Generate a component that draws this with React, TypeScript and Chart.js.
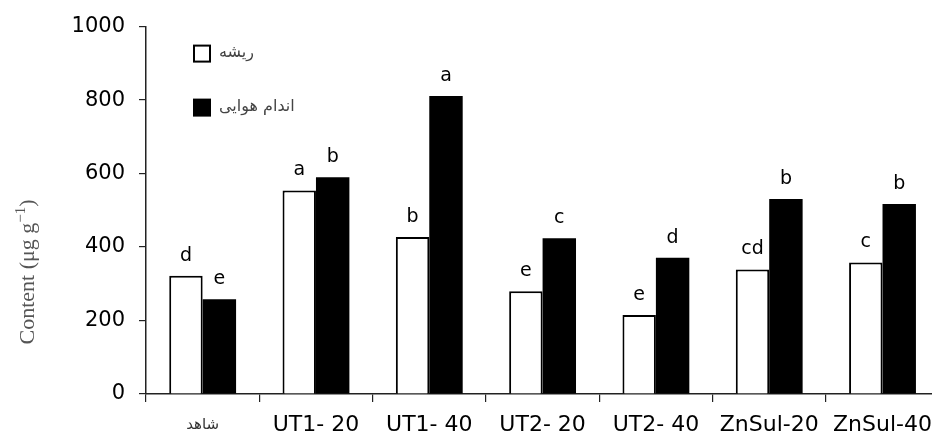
import React, { useEffect, useRef } from "react";
import { Chart, registerables } from "chart.js";

Chart.register(...registerables);

const categories = ["شاهد", "UT1- 20", "UT1- 40", "UT2- 20", "UT2- 40", "ZnSul-20", "ZnSul-40"];
const rootValues = [322, 554, 427, 280, 215, 339, 358];
const shootValues = [258, 590, 811, 424, 371, 531, 517];
const rootLetters = ["d", "a", "b", "e", "e", "cd", "c"];
const shootLetters = ["e", "b", "a", "c", "d", "b", "b"];
const seriesNames = ["ریشه", "اندام هوایی"];
const yMin = 0;
const yMax = 1000;
const yStep = 200;
const yTitleMain = "Content (μg g";
const yTitleSup = "−1";
const yTitleEnd = ")";

const lettersPlugin = {
  id: "letters",
  afterDatasetsDraw(chart: any) {
    const ctx = chart.ctx;
    const sets = [rootLetters, shootLetters];
    ctx.save();
    ctx.font = "19px 'DejaVu Sans'";
    ctx.fillStyle = "#000";
    ctx.textAlign = "center";
    ctx.textBaseline = "alphabetic";
    sets.forEach((letters, di) => {
      const meta = chart.getDatasetMeta(di);
      meta.data.forEach((el: any, i: number) => {
        ctx.fillText(letters[i], el.x, el.y - 15);
      });
    });
    ctx.restore();
  },
};

const legendPlugin = {
  id: "customLegend",
  afterDraw(chart: any) {
    const ctx = chart.ctx;
    const a = chart.chartArea;
    ctx.save();
    chart.data.datasets.forEach((ds: any, i: number) => {
      const bx = a.left + 47;
      const by = a.top + 18 + i * 54;
      if (i === 0) {
        ctx.fillStyle = "#fff";
        ctx.fillRect(bx, by, 18, 18);
        ctx.strokeStyle = "#000";
        ctx.lineWidth = 2;
        ctx.strokeRect(bx + 1, by + 1, 16, 16);
      } else {
        ctx.fillStyle = "#000";
        ctx.fillRect(bx, by, 18, 18);
      }
      ctx.fillStyle = "#444";
      ctx.font = "16px 'DejaVu Sans'";
      ctx.textAlign = "left";
      ctx.textBaseline = "middle";
      ctx.fillText(ds.label, bx + 26, by + 8);
    });
    ctx.restore();
  },
};

const yTitlePlugin = {
  id: "yTitle",
  afterDraw(chart: any) {
    const ctx = chart.ctx;
    ctx.save();
    ctx.translate(28, 272);
    ctx.rotate(-Math.PI / 2);
    ctx.fillStyle = "#555";
    ctx.textBaseline = "middle";
    ctx.textAlign = "left";
    const big = "22px 'Liberation Serif'";
    const small = "15px 'Liberation Serif'";
    ctx.font = big;
    const w1 = ctx.measureText(yTitleMain).width;
    ctx.font = small;
    const w2 = ctx.measureText(yTitleSup).width;
    ctx.font = big;
    const w3 = ctx.measureText(yTitleEnd).width;
    const total = w1 + w2 + w3;
    let x = -total / 2;
    ctx.fillText(yTitleMain, x, 0);
    x += w1;
    ctx.font = small;
    ctx.fillText(yTitleSup, x, -7);
    x += w2;
    ctx.font = big;
    ctx.fillText(yTitleEnd, x, 0);
    ctx.restore();
  },
};

export default function App() {
  const ref = useRef<HTMLCanvasElement>(null);
  useEffect(() => {
    if (!ref.current) return;
    const chart = new Chart(ref.current, {
      type: "bar",
      data: {
        labels: categories,
        datasets: [
          {
            label: seriesNames[0],
            data: rootValues,
            backgroundColor: "#fff",
            borderColor: "#000",
            borderWidth: 2,
            categoryPercentage: 0.59,
            barPercentage: 1,
          },
          {
            label: seriesNames[1],
            data: shootValues,
            backgroundColor: "#000",
            borderColor: "#000",
            borderWidth: 0,
            categoryPercentage: 0.59,
            barPercentage: 1,
          },
        ],
      },
      options: {
        responsive: false,
        animation: false,
        layout: { padding: { top: 20, right: 0, bottom: 0, left: 0 } },
        plugins: {
          legend: { display: false },
          tooltip: { enabled: false },
        },
        scales: {
          x: {
            offset: true,
            grid: { offset: true, drawOnChartArea: false, drawTicks: true, tickLength: 8, color: "#222", lineWidth: 1.2 },
            border: { display: true, color: "#222", width: 1.5 },
            ticks: {
              padding: 10,
              maxRotation: 0,
              autoSkip: false,
              color: (c: any) => (c.index === 0 ? "#333" : "#000"),
              font: (c: any) =>
                c.index === 0
                  ? { family: "'DejaVu Sans'", size: 15, lineHeight: 1.76 }
                  : { family: "'DejaVu Sans'", size: 22, lineHeight: 1.2 },
            },
            afterFit: (s: any) => {
              s.height = 50;
            },
          },
          y: {
            min: yMin,
            max: yMax,
            ticks: {
              stepSize: yStep,
              padding: 14,
              color: "#000",
              font: { family: "'DejaVu Sans'", size: 21 },
              callback: (v: any) => String(v),
            },
            grid: { drawOnChartArea: false, drawTicks: true, tickLength: 7, color: "#222", lineWidth: 1.2 },
            border: { display: true, color: "#222", width: 1.5 },
            afterFit: (s: any) => {
              s.width = 146;
            },
          },
        },
      },
      plugins: [lettersPlugin, legendPlugin, yTitlePlugin],
    } as any);
    return () => chart.destroy();
  }, []);
  return (
    <div style={{ position: "fixed", left: 0, top: 0, width: 932, height: 444, overflow: "hidden", background: "#fff" }}>
      <canvas ref={ref} width={942} height={444} style={{ display: "block", width: 942, height: 444 }} />
    </div>
  );
}
